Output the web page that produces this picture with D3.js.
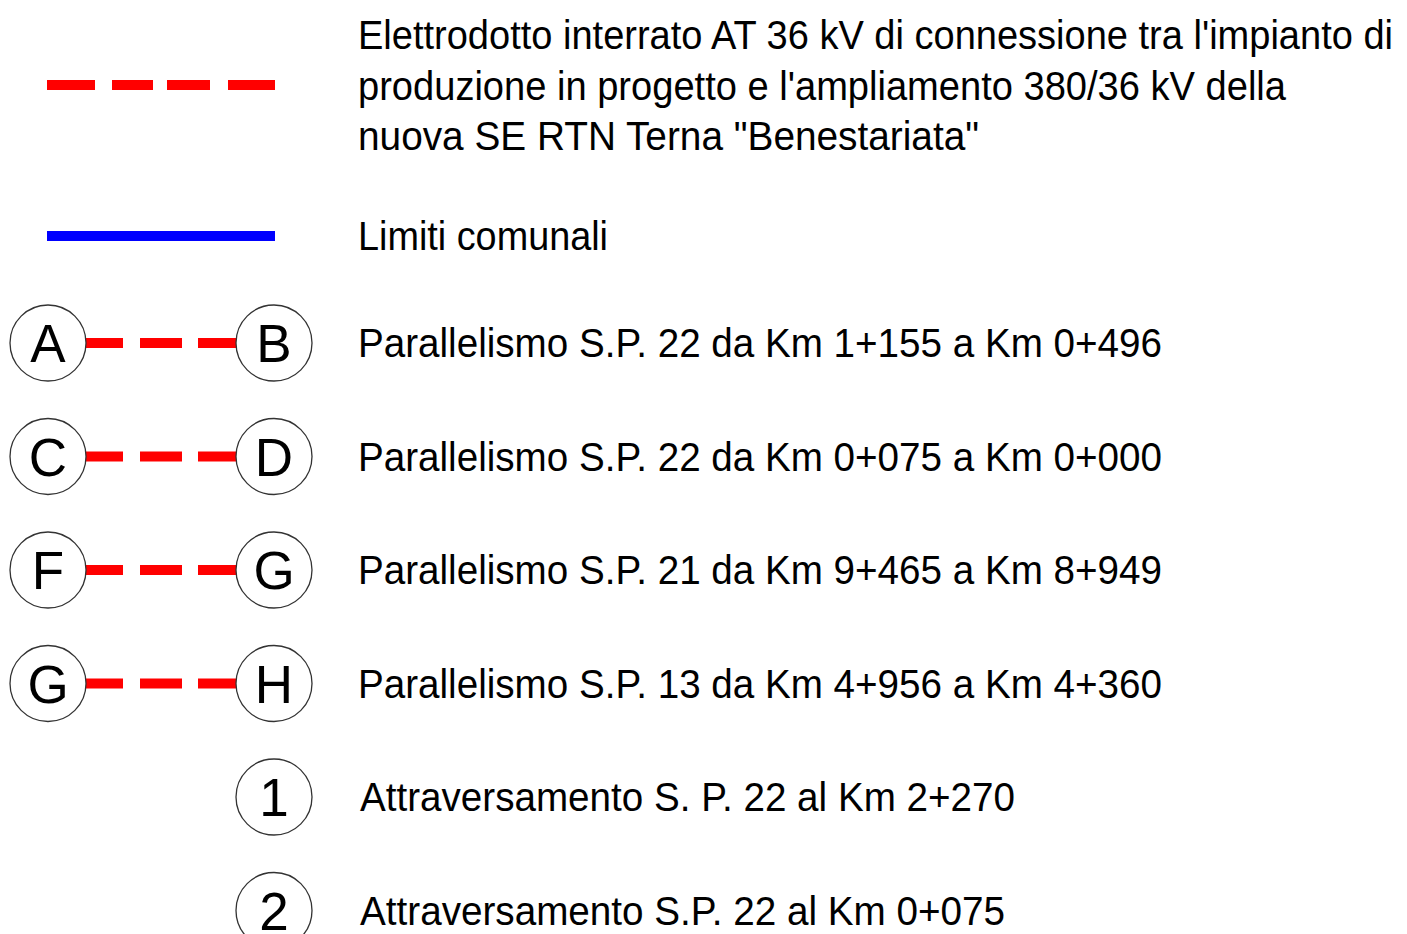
<!DOCTYPE html>
<html>
<head>
<meta charset="utf-8">
<script src="https://cdn.jsdelivr.net/npm/d3@7"></script>
<style>
  body { margin: 0; background: #fff; }
  text { font-family: "Liberation Sans", Arial, sans-serif; fill: #000; }
</style>
</head>
<body>
<div id="main_div"></div>
<script>
// legend entries
const cableLines = [
    "Elettrodotto interrato AT 36 kV di connessione tra l'impianto di",
    "produzione in progetto e l'ampliamento 380/36 kV della",
    "nuova SE RTN Terna \"Benestariata\""
];
const cableWidths = [1035, 928, 621];
const boundaryLabel = "Limiti comunali";
const boundaryWidth = 250;

const parallelFrom = ["A", "C", "F", "G"];
const parallelTo = ["B", "D", "G", "H"];
const parallelLabels = [
    "Parallelismo S.P. 22 da Km 1+155 a Km 0+496",
    "Parallelismo S.P. 22 da Km 0+075 a Km 0+000",
    "Parallelismo S.P. 21 da Km 9+465 a Km 8+949",
    "Parallelismo S.P. 13 da Km 4+956 a Km 4+360"
];
const parallelWidths = [804, 804, 804, 804];

const crossingIds = ["1", "2"];
const crossingLabels = [
    "Attraversamento S. P. 22 al Km 2+270",
    "Attraversamento S.P. 22 al Km 0+075"
];
const crossingWidths = [655, 645];

const W = 1407, H = 934;
const R = 38;
const FS = 40;

const svg = d3.select("#main_div")
    .append("svg")
    .attr("width", W)
    .attr("height", H);

// row positions
const y = d3.scaleLinear().domain([0, 1]).range([343, 456.5]);
const xLeft = 48, xRight = 274, xText = 358;

function label(txt, x, yy, w) {
    svg.append("text")
        .attr("x", x)
        .attr("y", yy)
        .attr("font-size", FS)
        .attr("textLength", w)
        .attr("lengthAdjust", "spacingAndGlyphs")
        .text(txt);
}

function bubble(ch, cx, cy) {
    svg.append("circle")
        .attr("cx", cx).attr("cy", cy).attr("r", R)
        .attr("fill", "#fff")
        .attr("stroke", "#333")
        .attr("stroke-width", 1.3);
    svg.append("text")
        .attr("x", cx).attr("y", cy + 19)
        .attr("text-anchor", "middle")
        .attr("font-size", 53)
        .text(ch);
}

// cable line
svg.append("line")
    .attr("x1", 47).attr("x2", 275)
    .attr("y1", 85).attr("y2", 85)
    .attr("stroke", "#ff0000")
    .attr("stroke-width", 10)
    .attr("stroke-dasharray", "48 17 41 14 43 18 47");

cableLines.forEach((t, i) => label(t, xText, 49 + i * 50.5, cableWidths[i]));

// municipal boundary
svg.append("line")
    .attr("x1", 47).attr("x2", 275)
    .attr("y1", 236).attr("y2", 236)
    .attr("stroke", "#0000ff")
    .attr("stroke-width", 10);
label(boundaryLabel, xText, 250, boundaryWidth);

// parallels
parallelLabels.forEach((t, i) => {
    const cy = y(i);
    svg.append("line")
        .attr("x1", xLeft + R).attr("x2", xRight - R)
        .attr("y1", cy).attr("y2", cy)
        .attr("stroke", "#ff0000")
        .attr("stroke-width", 10)
        .attr("stroke-dasharray", "37 17 42 16 40");
    bubble(parallelFrom[i], xLeft, cy);
    bubble(parallelTo[i], xRight, cy);
    label(t, xText, cy + 14, parallelWidths[i]);
});

// crossings
crossingLabels.forEach((t, i) => {
    const cy = y(4 + i);
    bubble(crossingIds[i], xRight, cy);
    label(t, xText + 2, cy + 14, crossingWidths[i]);
});
</script>
</body>
</html>
